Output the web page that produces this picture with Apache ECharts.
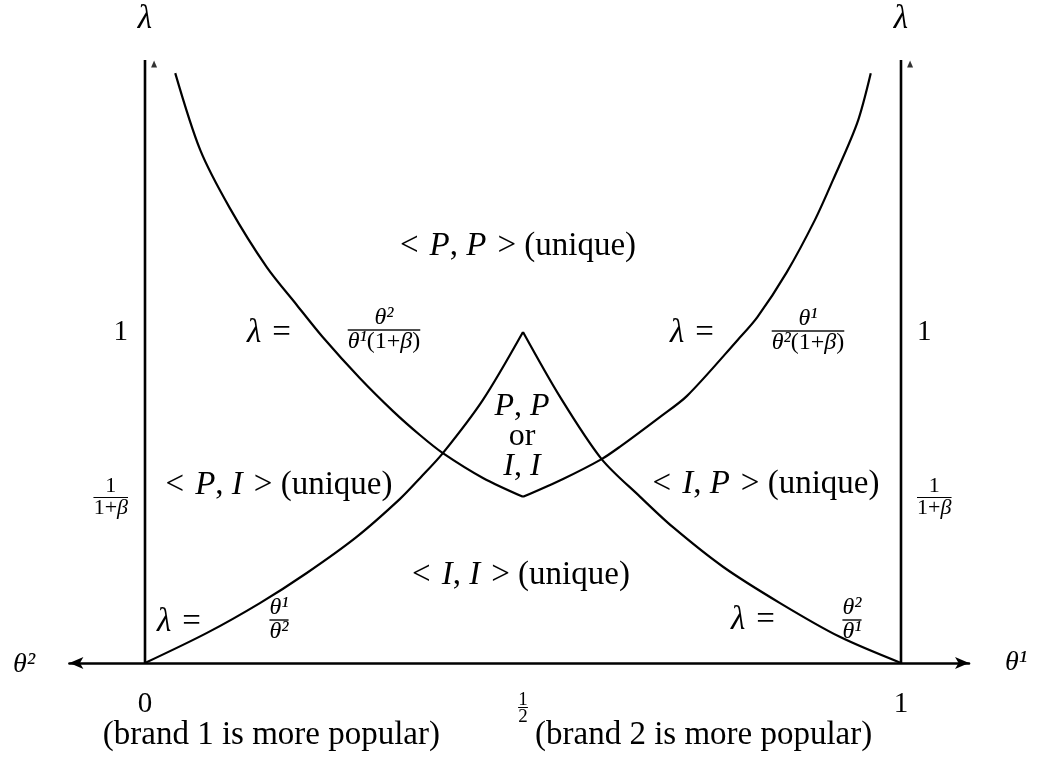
<!DOCTYPE html>
<html>
<head>
<meta charset="utf-8">
<title>Equilibrium regions</title>
<script src="https://cdn.jsdelivr.net/npm/echarts@6/dist/echarts.min.js"></script>
<style>
  html, body { margin: 0; padding: 0; background: #fff; }
  #chart { width: 1040px; height: 763px; }
</style>
</head>
<body>
<div id="chart"></div>
<script>
// x runs from 0 (left axis) to 1 (right axis), y is lambda

// lambda = theta1 / theta2
const curveAx = [0, 0.082, 0.152, 0.214, 0.280, 0.337, 0.364, 0.394, 0.447, 0.5]
const curveAy = [0, 0.091, 0.181, 0.272, 0.381, 0.495, 0.559, 0.634, 0.795, 1.0]
// lambda = theta2 / theta1
const curveBx = [0.5, 0.549, 0.604, 0.655, 0.698, 0.765, 0.840, 0.919, 1.0]
const curveBy = [1.0, 0.804, 0.616, 0.502, 0.411, 0.290, 0.181, 0.079, 0]
// lambda = theta2 / (theta1 (1+beta))
const curveDx = [0.040, 0.073, 0.112, 0.161, 0.201, 0.235, 0.284, 0.328, 0.364, 0.394, 0.447, 0.5]
const curveDy = [1.782, 1.550, 1.375, 1.196, 1.081, 0.985, 0.861, 0.761, 0.688, 0.634, 0.559, 0.502]
// lambda = theta1 / (theta2 (1+beta))
const curveCx = [0.5, 0.553, 0.604, 0.628, 0.681, 0.717, 0.784, 0.810, 0.849, 0.886, 0.910, 0.942, 0.960]
const curveCy = [0.502, 0.556, 0.616, 0.653, 0.743, 0.807, 0.976, 1.045, 1.181, 1.338, 1.459, 1.631, 1.782]

// the two vertical lambda axes
const axisX = [0, 1]
const axisTop = 1.822
// small arrow heads, drawn a little to the right of each axis top
const arrowX = [0.012, 1.012]
const arrowY = 1.81

const xTickValues = [0, 0.5, 1]
const xTickLabels = ['0', '{h1|1}\n{hr|}\n{h|2}', '1']
const yTickValues = [0.5, 1]
const yTickLabels = ['{f|1}\n{hr|}\n{f|1+}{fi|β}', '1']

const FONT = '"Liberation Serif", "Times New Roman", serif'
const X_MIN = -0.1
const X_MAX = 1.09
const PX_PER_X = 756

const pairs = (xs, ys) => xs.map((x, i) => [x, ys[i]])

const pickLabel = (values, labels) => v => {
  const i = values.findIndex(t => Math.abs(t - v) < 1e-6)
  return i < 0 ? '' : labels[i]
}

const chart = echarts.init(document.getElementById('chart'), null, { renderer: 'canvas' })

// fraction bar: left aligned so it starts at the left of the block and spans it
const hrStyle = { width: '100%', height: 0, borderColor: '#000', borderWidth: 0.9, lineHeight: 5, align: 'left' }

const yAxisLabel = {
  margin: 17,
  color: '#000',
  fontFamily: FONT,
  fontSize: 29,
  formatter: pickLabel(yTickValues, yTickLabels),
  rich: {
    f: { fontFamily: FONT, fontSize: 22, lineHeight: 17, align: 'center', color: '#000' },
    fi: { fontFamily: FONT, fontSize: 22, lineHeight: 17, fontStyle: 'italic', align: 'center', color: '#000' },
    hr: hrStyle
  }
}

// rich styles for free-standing text
const makeRich = (size, lh) => ({
  r: { fontSize: size, fontFamily: FONT, fill: '#000', align: 'center', lineHeight: lh },
  i: { fontSize: size, fontFamily: FONT, fill: '#000', align: 'center', fontStyle: 'italic', lineHeight: lh },
  hr: hrStyle
})

const label = (x, y, text, size, extra) => ({
  type: 'text',
  x: x,
  y: y,
  silent: true,
  style: Object.assign({
    text: text,
    fill: '#000',
    fontSize: size,
    fontFamily: FONT,
    align: 'center',
    verticalAlign: 'middle',
    textAlign: 'center',
    textVerticalAlign: 'middle',
    rich: makeRich(size)
  }, extra || {})
})

const frac = (x, y, text) => label(x, y, text, 24, { rich: makeRich(24, 19) })

const curveSeries = (xs, ys) => ({
  type: 'line',
  data: pairs(xs, ys),
  showSymbol: false,
  smooth: 0.3,
  silent: true,
  lineStyle: { color: '#000', width: 2.2 },
  z: 3
})

const axisSeries = x => ({
  type: 'line',
  data: [[x, 0], [x, axisTop]],
  showSymbol: false,
  silent: true,
  lineStyle: { color: '#000', width: 2.6 },
  z: 2
})

const option = {
  animation: false,
  backgroundColor: '#fff',
  grid: {
    left: 145 + X_MIN * PX_PER_X,
    right: 1040 - (145 + X_MAX * PX_PER_X),
    top: 1,
    bottom: 100,
    outerBoundsMode: 'none'
  },
  xAxis: {
    type: 'value',
    min: X_MIN,
    max: X_MAX,
    interval: 0.1,
    axisLine: {
      show: true,
      symbol: ['arrow', 'arrow'],
      symbolSize: [9, 14],
      lineStyle: { color: '#000', width: 2.5 }
    },
    axisTick: { show: false },
    splitLine: { show: false },
    axisLabel: {
      interval: 0,
      margin: 27,
      color: '#000',
      fontFamily: FONT,
      fontSize: 29,
      formatter: pickLabel(xTickValues, xTickLabels),
      rich: {
        h1: { fontFamily: FONT, fontSize: 19, lineHeight: 15, padding: [6, 0, 0, 0], align: 'center', color: '#000' },
        h: { fontFamily: FONT, fontSize: 19, lineHeight: 15, align: 'center', color: '#000' },
        hr: hrStyle
      }
    }
  },
  yAxis: [
    {
      type: 'value',
      min: 0,
      max: 2,
      interval: 0.5,
      position: 'left',
      offset: X_MIN * PX_PER_X,
      axisLine: { show: false, onZero: false },
      axisTick: { show: false },
      splitLine: { show: false },
      axisLabel: yAxisLabel
    },
    {
      type: 'value',
      min: 0,
      max: 2,
      interval: 0.5,
      position: 'right',
      offset: -(X_MAX - 1) * PX_PER_X,
      axisLine: { show: false, onZero: false },
      axisTick: { show: false },
      splitLine: { show: false },
      axisLabel: Object.assign({}, yAxisLabel, { margin: 16 })
    }
  ],
  series: [
    curveSeries(curveAx, curveAy),
    curveSeries(curveBx, curveBy),
    curveSeries(curveDx, curveDy),
    curveSeries(curveCx, curveCy),
    axisSeries(axisX[0]),
    axisSeries(axisX[1]),
    {
      type: 'scatter',
      data: arrowX.map(x => [x, arrowY]),
      symbol: 'triangle',
      symbolSize: [6, 7],
      silent: true,
      itemStyle: { color: '#000' }
    }
  ],
  graphic: [
    label(145, 19, '{i|λ}', 33),
    label(901, 19, '{i|λ}', 33),
    label(24, 665, '{i|θ²}', 28),
    label(1016, 663, '{i|θ¹}', 28),

    label(518, 246, '{r|<\u2004}{i|P}{r|, }{i|P}{r|\u2004> (unique)}', 33),
    label(279, 485, '{r|<\u2004}{i|P}{r|, }{i|I}{r|\u2004> (unique)}', 33),
    label(766, 484, '{r|<\u2004}{i|I}{r|, }{i|P}{r|\u2004> (unique)}', 33),
    label(521, 575, '{r|<\u2004}{i|I}{r|, }{i|I}{r|\u2004> (unique)}', 33),
    label(522, 437, '{i|P}{r|, }{i|P}\n{r|or}\n{i|I}{r|, }{i|I}', 32, { rich: makeRich(32, 30) }),

    label(269, 333, '{i|λ}{r|\u2004=}', 33),
    label(692, 333, '{i|λ}{r|\u2004=}', 33),
    label(179, 622, '{i|λ}{r|\u2004=}', 33),
    label(753, 620, '{i|λ}{r|\u2004=}', 33),

    frac(384, 330, '{i|θ²}\n{hr|}\n{i|θ¹}{r|(1+}{i|β}{r|)}'),
    frac(808, 331, '{i|θ¹}\n{hr|}\n{i|θ²}{r|(1+}{i|β}{r|)}'),
    frac(279, 620, '{i|θ¹}\n{hr|}\n{i|θ²}'),
    frac(852, 620, '{i|θ²}\n{hr|}\n{i|θ¹}'),

    label(440, 735, '{r|(brand 1 is more popular)}', 33, { align: 'right', textAlign: 'right' }),
    label(535, 735, '{r|(brand 2 is more popular)}', 33, { align: 'left', textAlign: 'left' })
  ]
}

chart.setOption(option)
</script>
</body>
</html>
